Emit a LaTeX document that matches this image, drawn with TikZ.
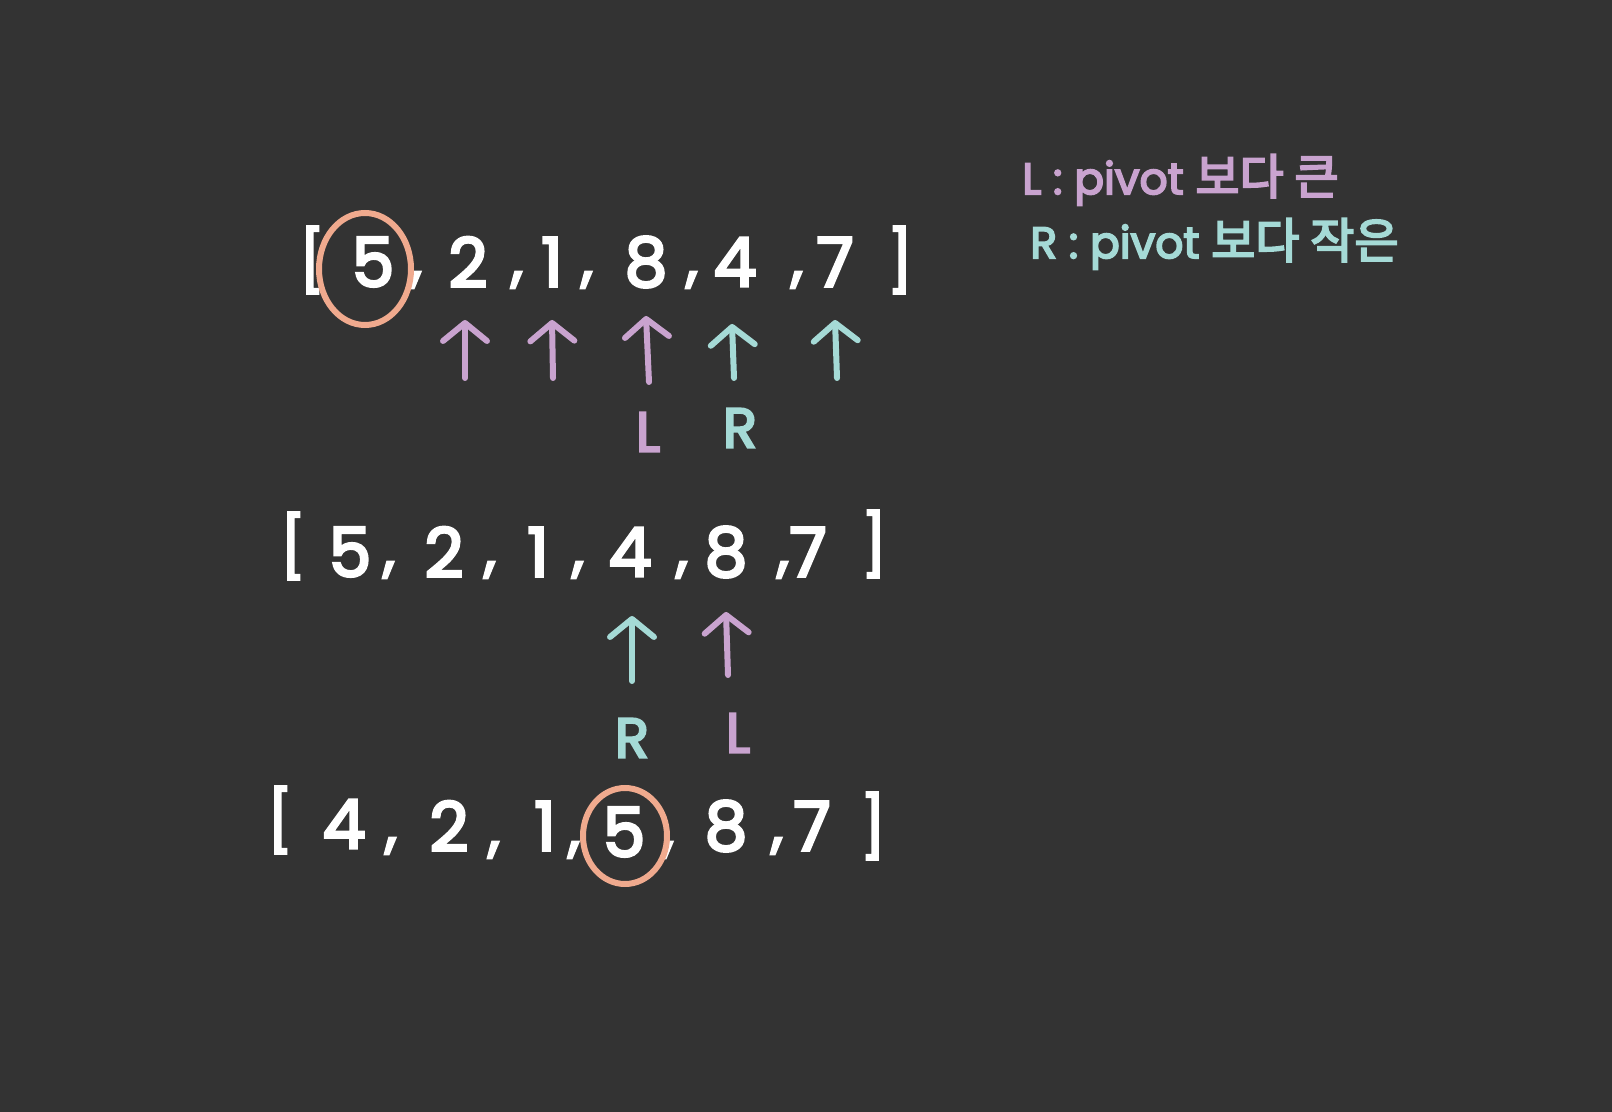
\documentclass[tikz,border=0pt]{standalone}
\usepackage{fontspec}
\setmainfont{Poppins}[BoldFont=Poppins, BoldFeatures={FakeBold=4}]
\newfontfamily\kr{Noto Sans CJK KR}[BoldFont={Noto Sans CJK KR}, BoldFeatures={FakeBold=4}]
\usetikzlibrary{arrows.meta,shapes.geometric}
\definecolor{bg}{HTML}{333333}
\definecolor{lilac}{HTML}{C9A3CF}
\definecolor{teal}{HTML}{A5DAD6}
\definecolor{salmon}{HTML}{F0AA8E}
\tikzset{
  num/.style={text=white, font=\fontsize{34}{40}\selectfont\bfseries, inner sep=0pt, anchor=center},
  brk/.style={text=white, font=\fontsize{30}{36}\selectfont\bfseries, inner sep=0pt, anchor=center},
  cma/.style={text=white, font=\fontsize{30}{36}\selectfont\bfseries, inner sep=0pt, anchor=center},
  ptr/.style={line width=3pt, line cap=round, -{Straight Barb[length=9pt,width=22pt,line width=3pt,round]}},
  lab/.style={font=\fontsize{28}{32}\selectfont\bfseries, inner sep=0pt},
  legend/.style={font=\fontsize{22}{28}\selectfont\bfseries, inner sep=0pt, anchor=west},
  ring/.style={draw=salmon, line width=3pt, ellipse, inner sep=0pt}
}
\begin{document}
\begin{tikzpicture}[x=0.5pt,y=-0.5pt]
\fill[bg] (0,0) rectangle (1612,1112);
\useasboundingbox (0,0) rectangle (1612,1112);
% legend
\node[legend, text=lilac] (lg1) at (1022,180) {L : pivot {\kr\fontsize{24}{28}\selectfont 보다 큰}};
\node[legend, text=teal] (lg2) at (1030,244) {R : pivot {\kr\fontsize{24}{28}\selectfont 보다 작은}};
% row 1
\node[brk] (a0) at (312,260) {[};
\node[num] (a1) at (373,262) {5};
\node[cma] (ac1) at (416,280) {,};
\node[num] (a2) at (468,262) {2};
\node[cma] (ac2) at (517,280) {,};
\node[num] (a3) at (552,262) {1};
\node[cma] (ac3) at (587,280) {,};
\node[num] (a4) at (646,262) {8};
\node[cma] (ac4) at (692,280) {,};
\node[num] (a5) at (735,262) {4};
\node[cma] (ac5) at (797,280) {,};
\node[num] (a6) at (835,262) {7};
\node[brk] (a7) at (900,260) {]};
\node[ring, minimum width=46pt, minimum height=56pt] (ra) at (365,269) {};
% row 1 arrows
\coordinate (t1) at (465,378); \coordinate (h1) at (465,320);
\coordinate (t2) at (553,378); \coordinate (h2) at (552,320);
\coordinate (t3) at (649,382); \coordinate (h3) at (646,316);
\coordinate (t4) at (734,378); \coordinate (h4) at (732,324);
\coordinate (t5) at (837,378); \coordinate (h5) at (835,320);
\draw[ptr, lilac] (t1) -- (h1);
\draw[ptr, lilac] (t2) -- (h2);
\draw[ptr, lilac] (t3) -- (h3);
\draw[ptr, teal] (t4) -- (h4);
\draw[ptr, teal] (t5) -- (h5);
\node[lab, text=lilac] (la) at (648,432) {L};
\node[lab, text=teal] (lb) at (740,428) {R};
% row 2
\node[brk] (b0) at (293,546) {[};
\node[num] (b1) at (350,552) {5};
\node[cma] (bc1) at (389,570) {,};
\node[num] (b2) at (444,552) {2};
\node[cma] (bc2) at (490,570) {,};
\node[num] (b3) at (538,552) {1};
\node[cma] (bc3) at (578,570) {,};
\node[num] (b4) at (630,552) {4};
\node[cma] (bc4) at (682,570) {,};
\node[num] (b5) at (726,552) {8};
\node[cma] (bc5) at (783,570) {,};
\node[num] (b6) at (808,552) {7};
\node[brk] (b7) at (874,544) {]};
% row 2 arrows
\coordinate (t6) at (632,681); \coordinate (h6) at (632,616);
\coordinate (t7) at (728,675); \coordinate (h7) at (726,612);
\draw[ptr, teal] (t6) -- (h6);
\draw[ptr, lilac] (t7) -- (h7);
\node[lab, text=teal] (lc) at (632,738) {R};
\node[lab, text=lilac] (ld) at (738,733) {L};
% row 3
\node[brk] (c0) at (280,820) {[};
\node[num] (c1) at (344,824) {4};
\node[cma] (cc1) at (391,846) {,};
\node[num] (c2) at (449,826) {2};
\node[cma] (cc2) at (494,850) {,};
\node[num] (c3) at (545,826) {1};
\node[cma] (cc3) at (574,850) {,};
\node[num] (c4) at (624,832) {5};
\node[cma] (cc4) at (668,850) {,};
\node[num] (c5) at (726,826) {8};
\node[cma] (cc5) at (777,846) {,};
\node[num] (c6) at (812,826) {7};
\node[brk] (c7) at (873,826) {]};
\node[ring, minimum width=42pt, minimum height=48pt] (rc) at (625,836) {};
\end{tikzpicture}
\end{document}
